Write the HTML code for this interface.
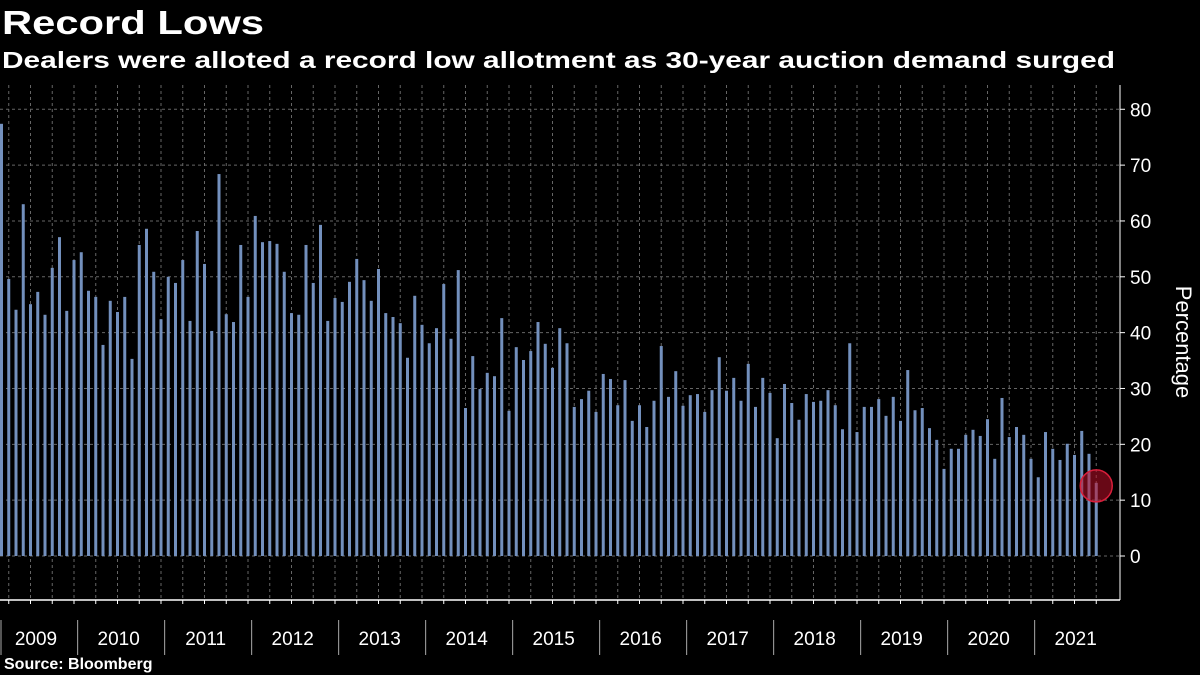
<!DOCTYPE html>
<html><head><meta charset="utf-8"><style>
html,body{margin:0;padding:0;background:#000;}
svg{display:block;font-family:"Liberation Sans",sans-serif;}
</style></head><body>
<svg id="chart" width="1200" height="675" viewBox="0 0 1200 675" xmlns="http://www.w3.org/2000/svg">
<rect width="1200" height="675" fill="#000"/>
<text x="2" y="34" fill="#fff" font-size="33" font-weight="bold" textLength="262" lengthAdjust="spacingAndGlyphs">Record Lows</text>
<text x="2" y="68" fill="#fff" font-size="23" font-weight="bold" textLength="1113" lengthAdjust="spacingAndGlyphs">Dealers were alloted a record low allotment as 30-year auction demand surged</text>
<g id="grid"></g>
<g id="bars"></g>
<g id="axes"></g>
<text x="4" y="669" fill="#fff" font-size="16" font-weight="bold">Source: Bloomberg</text>
</svg>
<script>
const values = [77.4,49.6,44.1,63.0,45.1,47.3,43.2,51.6,57.1,43.9,53.0,54.4,47.5,46.4,37.8,45.7,43.7,46.4,35.3,55.7,58.6,50.9,42.4,50.0,48.9,53.0,42.1,58.2,52.3,40.3,68.4,43.3,41.9,55.7,46.4,60.9,56.2,56.4,55.9,50.9,43.5,43.2,55.7,48.9,59.3,42.1,46.2,45.5,49.1,53.2,49.4,45.7,51.4,43.5,42.8,41.7,35.5,46.6,41.4,38.1,40.8,48.7,38.9,51.2,26.5,35.8,29.9,32.8,32.2,42.6,26.0,37.4,35.1,36.7,41.9,38.0,33.7,40.8,38.1,26.7,28.1,29.6,25.8,32.6,31.7,27.0,31.5,24.2,27.0,23.1,27.8,37.6,28.5,33.1,26.9,28.8,29.0,25.8,29.7,35.6,29.6,31.9,27.8,34.4,26.7,31.9,29.2,21.1,30.8,27.4,24.4,29.0,27.6,27.8,29.7,27.0,22.7,38.1,22.2,26.7,26.7,28.1,25.1,28.5,24.2,33.3,26.1,26.5,22.9,20.8,15.6,19.2,19.2,21.7,22.6,21.5,24.5,17.4,28.3,21.3,23.1,21.7,17.4,14.1,22.2,19.2,17.2,20.1,18.1,22.4,18.3,13.1];
const years = ["2009","2010","2011","2012","2013","2014","2015","2016","2017","2018","2019","2020","2021"];
const yTicks = [0,10,20,30,40,50,60,70,80];
const highlightIndex = 151;

const NS = "http://www.w3.org/2000/svg";
const X0 = 1.5, STEP = 7.25, Y0 = 556, PXU = 5.584, RIGHT = 1120;
const xs = i => X0 + STEP * i;
const ys = v => Y0 - v * PXU;
function mk(tag, attrs, parent){const e=document.createElementNS(NS,tag);for(const k in attrs)e.setAttribute(k,attrs[k]);parent.appendChild(e);return e;}
const grid=document.getElementById('grid'), bars=document.getElementById('bars'), axes=document.getElementById('axes');

yTicks.forEach(t=>{
  const l=mk('line',{x1:0,x2:RIGHT,y1:ys(t),y2:ys(t),stroke:'#666','stroke-dasharray':'3,3','stroke-width':1},grid);
  
  
  const tk=mk('line',{x1:RIGHT,x2:RIGHT+5,y1:ys(t),y2:ys(t),stroke:'#fff'},axes);
  
  
  const tx=mk('text',{x:RIGHT+10,y:ys(t)+7,fill:'#fff','font-size':19},axes);
  tx.textContent=t;
  
  
});
for(let i=1;i<values.length+2;i+=3){
  const l=mk('line',{x1:xs(i),x2:xs(i),y1:85,y2:600,stroke:'#666','stroke-dasharray':'3,3'},grid);
  
  
  const tk=mk('line',{x1:xs(i),x2:xs(i),y1:600,y2:604,stroke:'#fff'},axes);
  
  
}
values.forEach((v,i)=>{
  const r=mk('rect',{x:xs(i)-1.5,y:ys(v),width:3,height:Y0-ys(v),fill:'#7390bd'},bars);
  
  
});
const hc=mk('circle',{cx:xs(highlightIndex),cy:ys(values[highlightIndex])+3,r:16,fill:'rgba(190,15,40,0.55)',stroke:'#d81e3a','stroke-width':1.5},bars);



const xa=mk('line',{x1:0,x2:RIGHT,y1:600,y2:600,stroke:'#fff','stroke-width':1.5},axes);


const ya=mk('line',{x1:RIGHT,x2:RIGHT,y1:85,y2:600,stroke:'#fff','stroke-width':1},axes);



years.forEach((y,k)=>{
  const sep = k===0 ? 1 : xs(11+12*(k-1)) - 3.6;
  const s=mk('line',{x1:sep,x2:sep,y1:620,y2:655,stroke:'#aaa'},axes);
  
  
  const cx = k===0 ? 36 : sep+41;
  const t=mk('text',{x:cx,y:645,fill:'#fff','font-size':19,'text-anchor':'middle'},axes);
  t.textContent=y;
  
  
});
const yt=mk('text',{x:0,y:0,fill:'#fff','font-size':22,'text-anchor':'middle',transform:'translate(1176,342) rotate(90)'},axes);
yt.textContent='Percentage';


</script>
</body></html>
